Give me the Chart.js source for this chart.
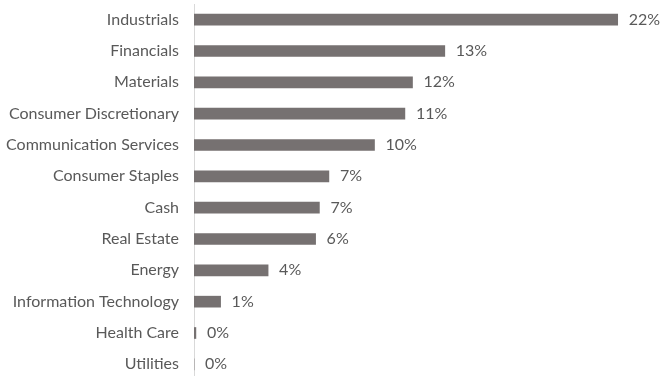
<!DOCTYPE html>
<html>
<head>
<meta charset="utf-8">
<script src="https://cdn.jsdelivr.net/npm/chart.js@4/dist/chart.umd.min.js"></script>
<style>
  html, body { margin: 0; padding: 0; background: #fff; overflow: hidden; }
  #wrap { width: 661px; height: 384px; position: relative; }
</style>
</head>
<body>
<div id="wrap"><canvas id="sectorChart"></canvas></div>
<script>
// Sector weights (%)
const sectors = ['Industrials', 'Financials', 'Materials', 'Consumer Discretionary',
    'Communication Services', 'Consumer Staples', 'Cash', 'Real Estate', 'Energy',
    'Information Technology', 'Health Care', 'Utilities'];
const weights = [22.3, 13.2, 11.5, 11.1, 9.5, 7.1, 6.6, 6.4, 3.9, 1.4, 0.1, 0];

const textColor = '#595959';
const fontFamily = 'Lato, "Open Sans", sans-serif';

// Draws the rounded % label just past the end of each bar
const valueLabels = {
    id: 'valueLabels',
    afterDatasetsDraw(chart) {
        const ctx = chart.ctx;
        const meta = chart.getDatasetMeta(0);
        ctx.save();
        ctx.font = '16px ' + fontFamily;
        ctx.fillStyle = textColor;
        ctx.textBaseline = 'middle';
        ctx.textAlign = 'left';
        meta.data.forEach(function (bar, i) {
            ctx.fillText(Math.round(weights[i]) + '%', bar.x + 11, bar.y);
        });
        ctx.restore();
    }
};

document.addEventListener('DOMContentLoaded', function () {
    const ctx = document.getElementById('sectorChart').getContext('2d');

    new Chart(ctx, {
        type: 'bar',
        data: {
            labels: sectors,
            datasets: [{
                data: weights,
                backgroundColor: '#767171',
                barThickness: 11
            }]
        },
        options: {
            indexAxis: 'y',
            responsive: true,
            maintainAspectRatio: false,
            animation: false,
            layout: { padding: { top: 4, right: 11, left: 0, bottom: 0 } },
            scales: {
                x: {
                    display: false,
                    min: 0,
                    max: 24
                },
                y: {
                    afterFit: function (scale) { scale.width = 194; },
                    // invisible tick marks just to push the labels away from the axis
                    grid: { color: 'transparent', drawTicks: true, tickLength: 15 },
                    border: { display: true, color: '#d9d9d9', width: 1 },
                    ticks: {
                        padding: 0,
                        color: textColor,
                        font: { family: fontFamily, size: 16, lineHeight: 0.5 }
                    }
                }
            },
            plugins: {
                legend: { display: false },
                tooltip: { enabled: false }
            }
        },
        plugins: [valueLabels]
    });
});
</script>
</body>
</html>
